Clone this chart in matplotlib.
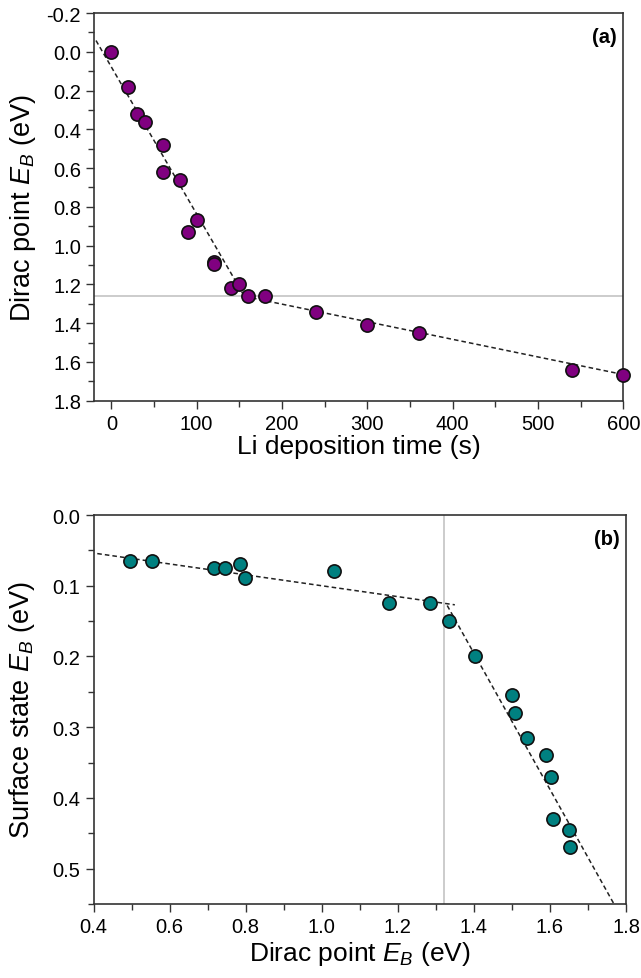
import matplotlib
matplotlib.use("Agg")
import matplotlib.pyplot as plt
from matplotlib.ticker import MultipleLocator, FormatStrFormatter

plt.rcParams['font.family'] = ['Liberation Sans', 'DejaVu Sans']
plt.rcParams['mathtext.fontset'] = 'custom'
plt.rcParams['mathtext.rm'] = 'Liberation Sans'
plt.rcParams['mathtext.it'] = 'Liberation Sans:italic'
plt.rcParams['mathtext.bf'] = 'Liberation Sans:bold'

# ---------------- data: panel (a) ----------------
time_s = [0, 20, 30, 40, 60, 60, 80, 90, 100, 120, 120, 140, 150, 160, 180, 240, 300, 360, 540, 600]
dirac_eb = [0.00, 0.18, 0.32, 0.36, 0.48, 0.62, 0.66, 0.93, 0.87, 1.085, 1.095,
            1.22, 1.20, 1.26, 1.26, 1.34, 1.41, 1.45, 1.64, 1.67]
fit_a1_x = [-18, 156]
fit_a1_y = [-0.058, 1.262]
fit_a2_x = [156, 600]
fit_a2_y = [1.262, 1.665]
hline_a = 1.26

# ---------------- data: panel (b) ----------------
dirac_b = [0.496, 0.554, 0.716, 0.745, 0.785, 0.799, 1.031, 1.178, 1.285, 1.334,
           1.404, 1.501, 1.509, 1.540, 1.589, 1.604, 1.609, 1.650, 1.653]
surf_eb = [0.065, 0.065, 0.075, 0.075, 0.069, 0.089, 0.079, 0.124, 0.124, 0.150,
           0.200, 0.255, 0.280, 0.315, 0.340, 0.370, 0.430, 0.445, 0.470]
fit_b1_x = [0.39, 1.35]
fit_b1_y = [0.053, 0.127]
fit_b2_x = [1.33, 1.785]
fit_b2_y = [0.128, 0.566]
vline_b = 1.322

W, H = 641, 979
fig = plt.figure(figsize=(W / 100, H / 100), dpi=100)

def frac(l, t, r, b):
    return [l / W, 1 - b / H, (r - l) / W, (b - t) / H]

ax1 = fig.add_axes(frac(94.3, 14, 623.3, 401.7))
ax2 = fig.add_axes(frac(93.5, 516, 626, 905))

spine_c = '#333333'
for ax in (ax1, ax2):
    for s in ax.spines.values():
        s.set_linewidth(1.2)
        s.set_color(spine_c)
    ax.tick_params(which='both', direction='out', top=False, right=False,
                   labelsize=14.5, color=spine_c, width=1.0, pad=3.5)
    ax.tick_params(which='major', length=6)
    ax.tick_params(which='minor', length=4)

# panel (a)
ax1.axhline(hline_a, color='#c8c8c8', lw=1.3, zorder=1)
ax1.plot(fit_a1_x, fit_a1_y, ls=(0, (3, 2)), color='#222222', lw=1.1, zorder=2)
ax1.plot(fit_a2_x, fit_a2_y, ls=(0, (3, 2)), color='#222222', lw=1.1, zorder=2)
ax1.plot(time_s, dirac_eb, 'o', ms=9.5, mfc='#800080', mec='#111111', mew=1.2,
         zorder=3, clip_on=False)
ax1.set_xlim(-20, 600)
ax1.set_ylim(1.8, -0.2)
ax1.xaxis.set_major_locator(MultipleLocator(100))
ax1.xaxis.set_minor_locator(MultipleLocator(50))
ax1.yaxis.set_major_locator(MultipleLocator(0.2))
ax1.yaxis.set_minor_locator(MultipleLocator(0.1))
ax1.yaxis.set_major_formatter(FormatStrFormatter('%.1f'))
ax1.set_xlabel('Li deposition time (s)', fontsize=19, va='center')
ax1.xaxis.set_label_coords(0.5, -0.118)
ax1.set_ylabel(r'Dirac point $E_B$ (eV)', fontsize=19.5, va='center')
ax1.yaxis.set_label_coords(-0.135, 0.5)
ax1.text(0.988, 0.965, '(a)', transform=ax1.transAxes, ha='right', va='top',
         fontsize=14.5, fontweight='bold')

# panel (b)
ax2.axvline(vline_b, color='#c8c8c8', lw=1.3, zorder=1)
ax2.plot(fit_b1_x, fit_b1_y, ls=(0, (3, 2)), color='#222222', lw=1.1, zorder=2)
ax2.plot(fit_b2_x, fit_b2_y, ls=(0, (3, 2)), color='#222222', lw=1.1, zorder=2)
ax2.plot(dirac_b, surf_eb, 'o', ms=9.5, mfc='#008080', mec='#111111', mew=1.2, zorder=3)
ax2.set_xlim(0.4, 1.8)
ax2.set_ylim(0.55, 0.0)
ax2.xaxis.set_major_locator(MultipleLocator(0.2))
ax2.xaxis.set_minor_locator(MultipleLocator(0.1))
ax2.yaxis.set_major_locator(MultipleLocator(0.1))
ax2.yaxis.set_minor_locator(MultipleLocator(0.05))
ax2.xaxis.set_major_formatter(FormatStrFormatter('%.1f'))
ax2.yaxis.set_major_formatter(FormatStrFormatter('%.1f'))
ax2.set_xlabel(r'Dirac point $E_B$ (eV)', fontsize=19, va='center')
ax2.xaxis.set_label_coords(0.5, -0.125)
ax2.set_ylabel(r'Surface state $E_B$ (eV)', fontsize=19.5, va='center')
ax2.yaxis.set_label_coords(-0.134, 0.5)
ax2.text(0.988, 0.965, '(b)', transform=ax2.transAxes, ha='right', va='top',
         fontsize=14.5, fontweight='bold')

fig.savefig('out.png', dpi=100)
